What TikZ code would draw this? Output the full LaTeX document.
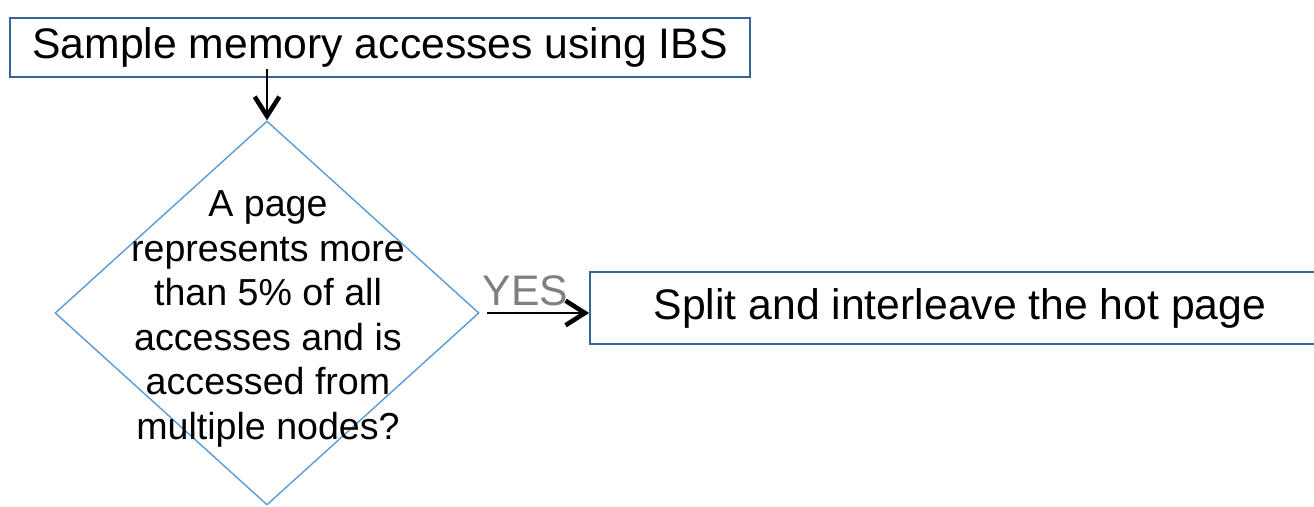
\documentclass[tikz,border=0pt]{standalone}
\usepackage{fontspec}
\setmainfont{Liberation Sans}
\usetikzlibrary{arrows.meta,positioning,shapes.geometric}
\definecolor{boxline}{HTML}{3A6496}
\definecolor{diamline}{HTML}{5B9BD5}
\definecolor{yesgray}{HTML}{7F7F7F}

\begin{document}
\begin{tikzpicture}[
  flowbox/.style={draw=boxline,line width=1pt,minimum width=14.8cm,font=\fontsize{24.3}{26}\selectfont},
  decision/.style={diamond,draw=diamline,line width=0.8pt,minimum width=8.48cm,minimum height=7.68cm,inner sep=0pt},
  flowarrow/.style={line width=1.1pt,-{Straight Barb[length=11pt,width=14pt,line width=2.6pt]}}
]
  \useasboundingbox (0,0) rectangle (26.28,10.12);

  % Sampling step
  \node[flowbox,minimum height=1.18cm] (sample) at (7.6,9.17) {Sample memory accesses using IBS};

  % Decision diamond
  \node[decision] (check) at (5.34,3.86) {};
  \node[font=\fontsize{21.4}{25.4}\selectfont,align=center] (question) at (5.36,3.74)
    {A page\\represents more\\than 5\% of all\\accesses and is\\accessed from\\multiple nodes?};

  % Action box
  \node[flowbox,minimum height=1.44cm] (split) at (19.2,3.96) {Split and interleave the hot page};

  % Connectors
  \draw[flowarrow,shorten <=-0.18cm] (check.north |- sample.south) -- (check.north);
  \draw[flowarrow,shorten <=0.14cm] (check.east) -- (check.east -| split.west)
    node[pos=0.42,above,text=yesgray,font=\fontsize{24.3}{26}\selectfont] (yes) {YES};
\end{tikzpicture}
\end{document}
